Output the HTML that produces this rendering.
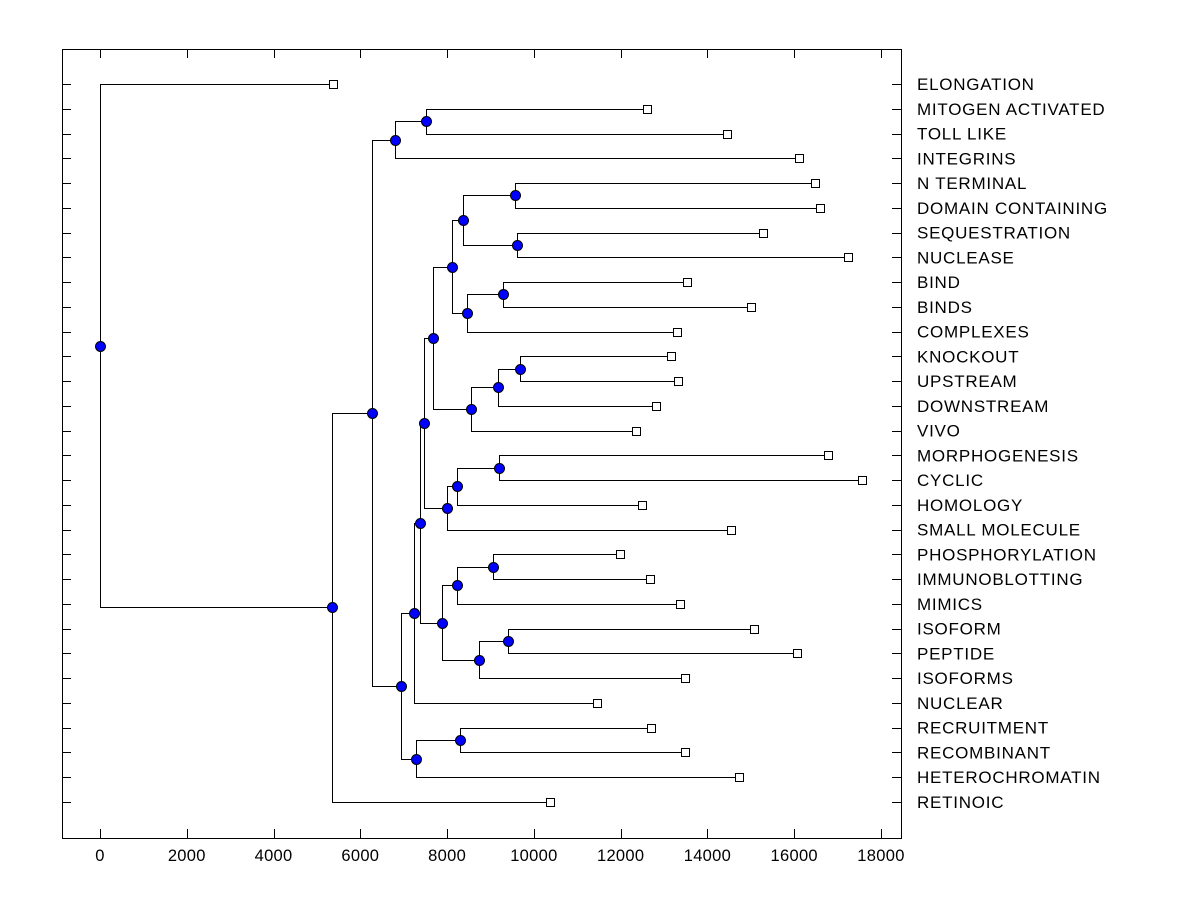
<!DOCTYPE html>
<html><head><meta charset="utf-8"><style>
html,body{margin:0;padding:0;background:#fff;}
svg{display:block;font-family:"Liberation Sans",Arial,sans-serif;}
</style></head><body>
<svg id="chart" width="1200" height="900" xmlns="http://www.w3.org/2000/svg">
<rect x="0" y="0" width="1200" height="900" fill="#fff"/>
<rect x="62.5" y="49.5" width="839" height="789" fill="none" stroke="#000"/>
</svg>
<script>
const leafNames=["ELONGATION","MITOGEN ACTIVATED","TOLL LIKE","INTEGRINS","N TERMINAL","DOMAIN CONTAINING","SEQUESTRATION","NUCLEASE","BIND","BINDS","COMPLEXES","KNOCKOUT","UPSTREAM","DOWNSTREAM","VIVO","MORPHOGENESIS","CYCLIC","HOMOLOGY","SMALL MOLECULE","PHOSPHORYLATION","IMMUNOBLOTTING","MIMICS","ISOFORM","PEPTIDE","ISOFORMS","NUCLEAR","RECRUITMENT","RECOMBINANT","HETEROCHROMATIN","RETINOIC"];
const leafValues=[5370,12607,14451,16110,16479,16594,15280,17239,13529,15004,13298,13160,13321,12814,12353,16778,17562,12492,14543,11985,12676,13367,15073,16064,13483,11455,12699,13483,14727,10371];
// internal nodes: name, height, children ("L<i>" = leaf index, or node name)
const nodeNames=["W","V","U","Z","Y","AA","AB","X","T","P","S","R","Q","J","N","L","O","M","K","I","F","H","G","D","E","C","B","A","ROOT"];
const nodeHeights=[9680,9173,8551,9288,8458,9565,9611,8366,8113,7675,9196,8228,7997,7467,9058,8228,9403,8735,7882,7375,7237,8297,7283,6937,7513,6799,6269,5347,0];
const nodeChildren=[["L11","L12"],["W","L13"],["V","L14"],["L8","L9"],["Z","L10"],["L4","L5"],["L6","L7"],["AA","AB"],["X","Y"],["T","U"],["L15","L16"],["S","L17"],["R","L18"],["P","Q"],["L19","L20"],["N","L21"],["L22","L23"],["O","L24"],["L","M"],["J","K"],["I","L25"],["L26","L27"],["H","L28"],["F","G"],["L1","L2"],["E","L3"],["C","D"],["B","L29"],["L0","A"]];
const xTicks=[0,2000,4000,6000,8000,10000,12000,14000,16000,18000];

const svg=document.getElementById('chart');
const NS="http://www.w3.org/2000/svg";
const xs=v=>100+v*(881-100)/18000;
const ys=i=>84+i*(802-84)/(leafNames.length-1);
function mk(tag,attrs){const e=document.createElementNS(NS,tag);for(const k in attrs)e.setAttribute(k,attrs[k]);svg.appendChild(e);return e;}

xTicks.forEach(t=>{
  const x=Math.round(xs(t))+0.5;
  const a=mk('line',{x1:x,y1:838,x2:x,y2:829,stroke:'#000'});
  
  
  const b=mk('line',{x1:x,y1:49,x2:x,y2:58,stroke:'#000'});
  
  
  const tx=mk('text',{x:xs(t),y:861,'text-anchor':'middle','font-size':'16.5','letter-spacing':'0.3'});
  tx.textContent=t;
  
  
});
leafNames.forEach((n,i)=>{
  const y=Math.round(ys(i))+0.5;
  const a=mk('line',{x1:62,y1:y,x2:71,y2:y,stroke:'#000'});
  
  
  const b=mk('line',{x1:892,y1:y,x2:901,y2:y,stroke:'#000'});
  
  
  const t=mk('text',{x:917,y:ys(i)+6,'font-size':'17','letter-spacing':'0.75'});
  t.textContent=n;
  
  
});

const pos={};
leafNames.forEach((n,i)=>{pos['L'+i]={x:xs(leafValues[i]),y:ys(i)};});
nodeNames.forEach((n,k)=>{
  const [a,b]=nodeChildren[k];
  pos[n]={x:xs(nodeHeights[k]),y:(pos[a].y+pos[b].y)/2};
});
nodeNames.forEach((n,k)=>{
  const p=pos[n];
  nodeChildren[k].forEach(c=>{
    const q=pos[c];
    const l=mk('polyline',{points:`${Math.round(p.x)+0.5},${Math.round(p.y)+0.5} ${Math.round(p.x)+0.5},${Math.round(q.y)+0.5} ${Math.round(q.x)+0.5},${Math.round(q.y)+0.5}`,fill:'none',stroke:'#000','stroke-width':1});
    
    
  });
});
leafNames.forEach((n,i)=>{
  const p=pos['L'+i];
  const r=mk('rect',{x:Math.round(p.x)-3.5,y:Math.round(p.y)-3.5,width:8,height:8,fill:'#fff',stroke:'#000'});
  
  
});
nodeNames.forEach(n=>{
  const p=pos[n];
  const c=mk('circle',{cx:Math.round(p.x)+0.5,cy:Math.round(p.y)+0.5,r:5,fill:'#0000ff',stroke:'#000'});
  
  
});
</script>
</body></html>
